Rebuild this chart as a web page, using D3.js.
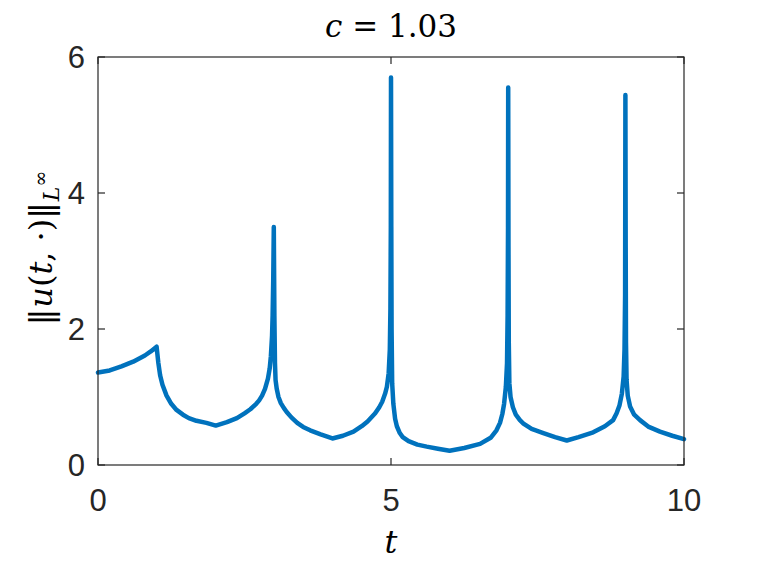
<!DOCTYPE html>
<html>
<head>
<meta charset="utf-8">
<script src="https://cdn.jsdelivr.net/npm/d3@7"></script>
<style>
  body { margin: 0; background: #fff; }
  svg { display: block; }
</style>
</head>
<body>
<div id="chart"></div>
<script>
// time samples (denser near the spikes) and sup norm values
const tValues = [
  0, 0.2, 0.4, 0.6, 0.8, 0.9, 1.0, 1.03, 1.06, 1.1, 1.17, 1.25, 1.34, 1.45, 1.55, 1.68,
  1.85, 2.01, 2.2, 2.37, 2.5, 2.6, 2.7, 2.75, 2.8, 2.85, 2.9, 2.93, 2.95, 2.97, 2.98, 2.99,
  3.0, 3.01, 3.02, 3.03, 3.05, 3.08, 3.12, 3.17, 3.22, 3.3, 3.4, 3.5, 3.62, 3.8, 4.0, 4.18,
  4.36, 4.5, 4.6, 4.73, 4.8, 4.85, 4.9, 4.93, 4.96, 4.98, 4.99, 4.997, 5.0, 5.005, 5.01, 5.02,
  5.04, 5.07, 5.1, 5.15, 5.2, 5.3, 5.45, 5.61, 5.8, 6.0, 6.25, 6.52, 6.7, 6.8, 6.86, 6.9,
  6.93, 6.96, 6.98, 6.99, 6.997, 7.0, 7.005, 7.01, 7.02, 7.04, 7.08, 7.13, 7.2, 7.26, 7.4, 7.6,
  7.8, 8.0, 8.2, 8.45, 8.65, 8.79, 8.85, 8.9, 8.94, 8.97, 8.985, 8.995, 9.0, 9.005, 9.01, 9.02,
  9.04, 9.08, 9.15, 9.25, 9.4, 9.59, 9.8, 10
];
const uValues = [
  1.36, 1.39, 1.45, 1.52, 1.61, 1.67, 1.74, 1.5, 1.32, 1.18, 1.02, 0.9, 0.81, 0.74, 0.69, 0.65,
  0.62, 0.58, 0.63, 0.69, 0.76, 0.82, 0.9, 0.95, 1.02, 1.12, 1.27, 1.42, 1.6, 1.9, 2.2, 2.7,
  3.5, 2.2, 1.5, 1.25, 1.12, 1.0, 0.91, 0.84, 0.78, 0.7, 0.62, 0.56, 0.51, 0.45, 0.39, 0.43,
  0.49, 0.57, 0.64, 0.76, 0.85, 0.93, 1.05, 1.15, 1.35, 1.7, 2.3, 3.5, 5.7, 3.5, 2.0, 1.2,
  0.9, 0.68, 0.57, 0.47, 0.41, 0.35, 0.3, 0.27, 0.24, 0.21, 0.25, 0.31, 0.4, 0.51, 0.62, 0.75,
  0.9, 1.15, 1.5, 2.2, 3.5, 5.55, 3.2, 1.8, 1.2, 1.0, 0.85, 0.74, 0.66, 0.61, 0.53, 0.47,
  0.41, 0.36, 0.41, 0.48, 0.57, 0.66, 0.76, 0.88, 1.05, 1.3, 1.7, 2.5, 5.44, 3.2, 1.8, 1.25,
  1.02, 0.86, 0.74, 0.66, 0.56, 0.49, 0.43, 0.38
];
const xTicks = [0, 5, 10];
const yTicks = [0, 2, 4, 6];

const data = tValues.map((t, i) => ({ t: t, u: uValues[i] }));

const W = 757, H = 571;
const margin = { top: 57, right: 73, bottom: 106, left: 98 };
const width = W - margin.left - margin.right;
const height = H - margin.top - margin.bottom;
const axisColor = "#262626";

const svg = d3.select("#chart")
  .append("svg")
  .attr("width", W)
  .attr("height", H);

const g = svg.append("g")
  .attr("transform", `translate(${margin.left},${margin.top})`);

const xScale = d3.scaleLinear().domain([0, 10]).range([0, width]);
const yScale = d3.scaleLinear().domain([0, 6]).range([height, 0]);

const line = d3.line()
  .x(d => xScale(d.t))
  .y(d => yScale(d.u));

g.append("path")
  .datum(data)
  .attr("fill", "none")
  .attr("stroke", "#0072BD")
  .attr("stroke-width", 4.5)
  .attr("stroke-linejoin", "round")
  .attr("stroke-linecap", "round")
  .attr("d", line);

// box
g.append("rect")
  .attr("x", 0)
  .attr("y", 0)
  .attr("width", width)
  .attr("height", height)
  .attr("fill", "none")
  .attr("stroke", axisColor)
  .attr("stroke-width", 1.2);

// inward ticks on all four sides
const tickLen = 7;
g.selectAll(".xtickB").data(xTicks).enter().append("line")
  .attr("x1", d => xScale(d)).attr("x2", d => xScale(d))
  .attr("y1", height).attr("y2", height - tickLen)
  .attr("stroke", axisColor).attr("stroke-width", 1.2);
g.selectAll(".xtickT").data(xTicks).enter().append("line")
  .attr("x1", d => xScale(d)).attr("x2", d => xScale(d))
  .attr("y1", 0).attr("y2", tickLen)
  .attr("stroke", axisColor).attr("stroke-width", 1.2);
g.selectAll(".ytickL").data(yTicks).enter().append("line")
  .attr("x1", 0).attr("x2", tickLen)
  .attr("y1", d => yScale(d)).attr("y2", d => yScale(d))
  .attr("stroke", axisColor).attr("stroke-width", 1.2);
g.selectAll(".ytickR").data(yTicks).enter().append("line")
  .attr("x1", width).attr("x2", width - tickLen)
  .attr("y1", d => yScale(d)).attr("y2", d => yScale(d))
  .attr("stroke", axisColor).attr("stroke-width", 1.2);

// tick labels
g.selectAll(".xlabel").data(xTicks).enter().append("text")
  .attr("x", d => xScale(d))
  .attr("y", height + 46)
  .attr("text-anchor", "middle")
  .attr("font-family", "Liberation Sans, Arial, sans-serif")
  .attr("font-size", "31px")
  .attr("fill", axisColor)
  .text(d => d);

g.selectAll(".ylabel").data(yTicks).enter().append("text")
  .attr("x", -13)
  .attr("y", d => yScale(d) + 11)
  .attr("text-anchor", "end")
  .attr("font-family", "Liberation Sans, Arial, sans-serif")
  .attr("font-size", "31px")
  .attr("fill", axisColor)
  .text(d => d);

// title
const title = svg.append("text")
  .attr("x", margin.left + width / 2)
  .attr("y", 37)
  .attr("text-anchor", "middle")
  .attr("font-family", "DejaVu Serif, Liberation Serif, serif")
  .attr("font-size", "31px")
  .attr("fill", "#000");
title.append("tspan").attr("font-style", "italic").text("c");
title.append("tspan").text(" = 1.03");

// x label
svg.append("text")
  .attr("x", margin.left + width / 2)
  .attr("y", 553)
  .attr("text-anchor", "middle")
  .attr("font-family", "DejaVu Serif, Liberation Serif, serif")
  .attr("font-style", "italic")
  .attr("font-size", "32px")
  .attr("fill", "#000")
  .text("t");

// y label
const ylab = svg.append("text")
  .attr("transform", "translate(52,248) rotate(-90)")
  .attr("text-anchor", "middle")
  .attr("font-family", "DejaVu Serif, Liberation Serif, serif")
  .attr("font-size", "32px")
  .attr("fill", "#000");
ylab.append("tspan").attr("font-weight", "300").attr("letter-spacing", "-5px").text("||");
ylab.append("tspan").attr("dx", 6).attr("font-style", "italic").text("u");
ylab.append("tspan").text("(");
ylab.append("tspan").attr("font-style", "italic").text("t");
ylab.append("tspan").text(", \u00B7)");
ylab.append("tspan").attr("letter-spacing", "-5px").text("||");
ylab.append("tspan").attr("dx", 6).attr("font-style", "italic").attr("font-size", "22px").attr("dy", 7).text("L");
ylab.append("tspan").attr("font-size", "19px").attr("dy", -12).text("\u221E");
</script>
</body>
</html>
